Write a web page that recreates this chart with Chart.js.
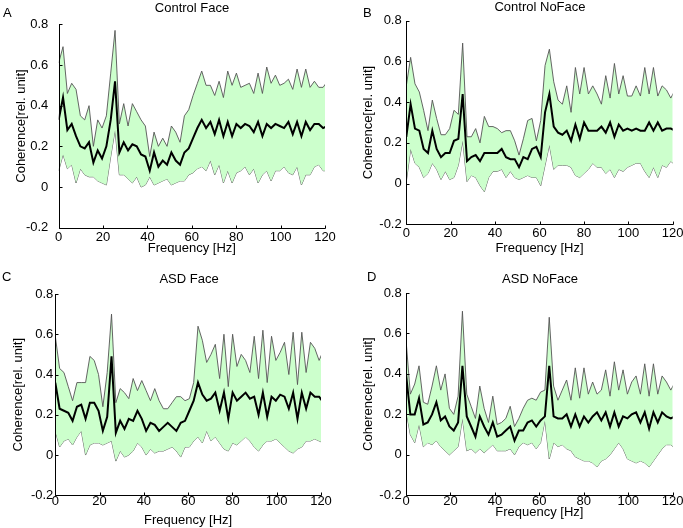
<!DOCTYPE html>
<html>
<head>
<meta charset="utf-8">
<script src="https://cdn.jsdelivr.net/npm/chart.js@4/dist/chart.umd.min.js"></script>
<style>
html,body{margin:0;padding:0;background:#fff;}
#wrap{position:relative;width:683px;height:528px;overflow:hidden;font-family:"Liberation Sans",Arial,sans-serif;}
canvas{position:absolute;}
.t{position:absolute;font-size:13px;line-height:13px;white-space:nowrap;color:#000;}
.c{transform:translateX(-50%);}
</style>
</head>
<body>
<div id="wrap">
  <canvas id="cA" width="340" height="264" style="left:0px;top:0px;"></canvas>
  <canvas id="cB" width="343" height="264" style="left:340px;top:0px;"></canvas>
  <canvas id="cC" width="340" height="264" style="left:0px;top:264px;"></canvas>
  <canvas id="cD" width="343" height="264" style="left:340px;top:264px;"></canvas>
  <div class="t" style="left:3px;top:6px;">A</div>
  <div class="t" style="left:363px;top:6px;">B</div>
  <div class="t" style="left:2px;top:270px;">C</div>
  <div class="t" style="left:367px;top:270px;">D</div>
  <div class="t c" id="tA" style="left:192px;top:1px;"></div>
  <div class="t c" id="tB" style="left:540px;top:0px;"></div>
  <div class="t c" id="tC" style="left:189px;top:272px;"></div>
  <div class="t c" id="tD" style="left:540px;top:272px;"></div>
</div>
<script>
// ---------- data ----------
const FREQ = [0,1.95,3.91,5.86,7.81,9.77,11.72,13.67,15.63,17.58,19.53,21.48,23.44,25.39,27.34,29.30,31.25,33.20,35.16,37.11,39.06,41.02,42.97,44.92,46.88,48.83,50.78,52.73,54.69,56.64,58.59,60.55,62.50,64.45,66.41,68.36,70.31,72.27,74.22,76.17,78.13,80.08,82.03,83.98,85.94,87.89,89.84,91.80,93.75,95.70,97.66,99.61,101.56,103.52,105.47,107.42,109.38,111.33,113.28,115.23,117.19,119.14,121.09];

const X_TICKS = [0,20,40,60,80,100,120];
const Y_TICKS = [-0.2,0,0.2,0.4,0.6,0.8];
const TITLES = ['Control Face','Control NoFace','ASD Face','ASD NoFace'];
const X_LABEL = 'Frequency [Hz]';
const Y_LABEL = 'Coherence[rel. unit]';

// Control Face
const CF_MEAN = [0.33,0.44,0.28,0.31,0.25,0.20,0.19,0.22,0.12,0.18,
0.14,0.20,0.33,0.52,0.17,0.22,0.18,0.21,0.20,0.16,
0.15,0.08,0.17,0.10,0.13,0.11,0.17,0.13,0.11,0.17,
0.19,0.24,0.29,0.33,0.29,0.32,0.26,0.33,0.25,0.32,
0.25,0.31,0.29,0.31,0.30,0.27,0.32,0.25,0.31,0.29,
0.31,0.30,0.29,0.32,0.26,0.32,0.25,0.32,0.28,0.31,
0.31,0.29,0.30];
const CF_UPPER = [0.61,0.69,0.46,0.51,0.48,0.35,0.33,0.40,0.20,0.33,
0.29,0.35,0.56,0.77,0.31,0.41,0.30,0.41,0.37,0.33,
0.30,0.15,0.27,0.20,0.24,0.20,0.30,0.27,0.22,0.35,
0.38,0.45,0.51,0.57,0.50,0.50,0.45,0.52,0.44,0.57,
0.50,0.56,0.49,0.50,0.51,0.46,0.56,0.46,0.59,0.51,
0.55,0.50,0.51,0.53,0.48,0.58,0.49,0.58,0.49,0.52,
0.49,0.49,0.52];
const CF_LOWER = [0.08,0.16,0.09,0.11,0.02,0.09,0.06,0.05,0.05,0.03,
0.02,0.01,0.15,0.28,0.06,0.06,0.04,0.02,0.05,0.00,
0.01,0.05,0.01,0.02,0.03,0.04,0.01,0.02,0.03,0.03,
0.06,0.07,0.09,0.10,0.08,0.13,0.06,0.11,0.02,0.08,
0.02,0.07,0.08,0.10,0.06,0.09,0.02,0.06,0.08,0.03,
0.08,0.08,0.10,0.07,0.06,0.10,0.01,0.06,0.06,0.10,
0.11,0.08,0.08];

// Control NoFace
const CN_MEAN = [0.23,0.39,0.27,0.26,0.17,0.15,0.26,0.17,0.13,0.15,
0.15,0.21,0.22,0.44,0.11,0.13,0.14,0.11,0.15,0.15,
0.15,0.15,0.17,0.13,0.12,0.12,0.08,0.13,0.12,0.17,
0.18,0.13,0.35,0.44,0.28,0.25,0.24,0.26,0.21,0.29,
0.22,0.30,0.26,0.26,0.26,0.28,0.25,0.30,0.23,0.29,
0.26,0.27,0.26,0.27,0.26,0.26,0.30,0.26,0.30,0.26,
0.27,0.27,0.26];
const CN_UPPER = [0.48,0.62,0.49,0.45,0.36,0.26,0.41,0.32,0.24,0.24,
0.27,0.36,0.34,0.69,0.23,0.23,0.27,0.20,0.33,0.28,
0.28,0.27,0.25,0.26,0.26,0.21,0.14,0.22,0.31,0.32,
0.21,0.31,0.58,0.66,0.50,0.41,0.39,0.48,0.35,0.57,
0.44,0.57,0.44,0.48,0.44,0.39,0.53,0.42,0.59,0.44,
0.53,0.43,0.43,0.48,0.43,0.57,0.44,0.57,0.43,0.48,
0.46,0.42,0.46];
const CN_LOWER = [0.01,0.17,0.10,0.08,0.03,0.05,0.10,0.07,0.02,0.06,
0.02,0.03,0.09,0.21,0.01,0.04,0.03,-0.01,-0.04,0.03,
0.06,0.06,0.07,0.03,0.06,0.03,0.02,0.03,0.04,0.03,
0.03,-0.01,0.09,0.19,0.07,0.09,0.09,0.09,0.08,0.04,
0.03,0.05,0.07,0.10,0.08,0.08,0.05,0.07,0.03,0.07,
0.06,0.08,0.09,0.10,0.10,0.06,0.03,0.08,0.03,0.09,
0.08,0.11,0.09];

// ASD Face
const AF_MEAN = [0.36,0.23,0.22,0.21,0.17,0.24,0.25,0.18,0.26,0.26,
0.22,0.12,0.19,0.49,0.11,0.17,0.13,0.18,0.17,0.22,
0.18,0.12,0.16,0.15,0.12,0.14,0.16,0.14,0.12,0.16,
0.17,0.22,0.27,0.36,0.30,0.27,0.28,0.31,0.22,0.31,
0.18,0.31,0.27,0.29,0.31,0.28,0.29,0.20,0.31,0.19,
0.29,0.27,0.30,0.29,0.23,0.31,0.18,0.31,0.23,0.31,
0.29,0.29,0.26];
const AF_UPPER = [0.59,0.43,0.41,0.34,0.27,0.36,0.36,0.36,0.49,0.47,
0.40,0.24,0.41,0.70,0.26,0.33,0.31,0.28,0.38,0.32,
0.37,0.32,0.27,0.33,0.27,0.23,0.23,0.26,0.29,0.29,
0.27,0.28,0.36,0.64,0.57,0.46,0.50,0.55,0.38,0.60,
0.34,0.60,0.44,0.50,0.47,0.41,0.59,0.38,0.62,0.36,
0.59,0.47,0.51,0.56,0.40,0.61,0.35,0.61,0.41,0.56,
0.53,0.47,0.52];
const AF_LOWER = [0.12,0.04,0.07,0.08,0.05,0.09,0.12,0.00,0.05,0.06,
0.06,0.05,0.06,0.07,-0.03,0.02,-0.01,0.00,0.02,0.06,
0.04,0.00,0.03,0.01,0.02,0.02,0.03,0.04,0.02,-0.01,
0.04,0.04,0.07,0.09,0.06,0.12,0.07,0.09,0.06,0.03,
0.02,0.06,0.05,0.07,0.09,0.07,0.04,0.02,0.05,0.07,
0.07,0.08,0.06,0.04,0.02,0.01,0.03,0.04,0.07,0.07,
0.08,0.07,0.06];

// ASD NoFace
const AN_MEAN = [0.40,0.20,0.20,0.28,0.15,0.16,0.20,0.26,0.17,0.19,
0.14,0.12,0.16,0.44,0.19,0.14,0.09,0.19,0.14,0.10,
0.16,0.09,0.10,0.12,0.14,0.07,0.12,0.12,0.16,0.17,
0.14,0.17,0.19,0.44,0.19,0.18,0.18,0.20,0.14,0.20,
0.14,0.19,0.16,0.19,0.21,0.17,0.21,0.14,0.21,0.14,
0.19,0.18,0.20,0.21,0.16,0.21,0.13,0.21,0.16,0.21,
0.19,0.18,0.19];
const AN_UPPER = [0.57,0.30,0.35,0.44,0.26,0.25,0.34,0.44,0.32,0.40,
0.23,0.20,0.29,0.71,0.30,0.24,0.18,0.34,0.23,0.16,
0.29,0.15,0.16,0.18,0.24,0.14,0.18,0.23,0.27,0.28,
0.27,0.31,0.32,0.68,0.34,0.27,0.32,0.37,0.27,0.43,
0.28,0.43,0.30,0.36,0.30,0.32,0.42,0.29,0.46,0.32,
0.42,0.30,0.36,0.39,0.30,0.45,0.29,0.45,0.30,0.39,
0.36,0.32,0.36];
const AN_LOWER = [0.22,0.10,0.06,0.15,0.04,0.06,0.05,0.07,0.04,0.02,
0.00,0.02,0.04,0.18,0.02,0.03,0.01,0.03,0.01,0.03,
0.05,0.02,0.02,0.02,0.03,0.00,0.04,0.06,0.05,0.06,
0.03,0.06,0.17,-0.02,0.06,0.04,0.05,0.03,0.02,-0.01,
-0.02,-0.03,-0.03,-0.04,-0.06,-0.03,-0.02,0.00,0.03,0.06,
0.03,-0.02,-0.03,-0.04,-0.03,-0.04,-0.06,-0.03,0.00,0.03,
0.05,0.05,0.03];

// ---------- layout (page coordinates) ----------
const PANELS = [
  {id:'cA', title:'tA', mean:CF_MEAN, upper:CF_UPPER, lower:CF_LOWER, cv:[0,0,340,264],
   area:{l:58.7,r:325,t:24.3,b:227.7}, yPad:10.4, xPad:3.1, yTitleX:21.7, xTitleY:248.3},
  {id:'cB', title:'tB', mean:CN_MEAN, upper:CN_UPPER, lower:CN_LOWER, cv:[340,0,343,264],
   area:{l:406.3,r:672.7,t:20.7,b:224.3}, yPad:4.6, xPad:2.5, yTitleX:368.3, xTitleY:248.3},
  {id:'cC', title:'tC', mean:AF_MEAN, upper:AF_UPPER, lower:AF_LOWER, cv:[0,264,340,264],
   area:{l:55.3,r:321,t:294,b:495.3}, yPad:2, xPad:-0.5, yTitleX:18.3, xTitleY:520.7},
  {id:'cD', title:'tD', mean:AN_MEAN, upper:AN_UPPER, lower:AN_LOWER, cv:[340,264,343,264],
   area:{l:406,r:672.7,t:293,b:495.3}, yPad:4.3, xPad:-0.3, yTitleX:368.3, xTitleY:512.3}
];

const FONT = "'Liberation Sans', Arial, sans-serif";

// axis lines (left and bottom) plus short inward tick marks, placed by the scales
const axesAndTicks = {
  id: 'axesAndTicks',
  afterDatasetsDraw(chart) {
    const {ctx, chartArea: a, scales: {x, y}} = chart;
    const L = Math.round(a.left) + 0.5;
    const B = Math.round(a.bottom) + 0.5;
    ctx.save();
    ctx.strokeStyle = '#000';
    ctx.lineWidth = 1;
    ctx.beginPath();
    ctx.moveTo(L, Math.round(a.top)); ctx.lineTo(L, B);
    ctx.lineTo(Math.round(a.right) + 0.5, B);
    y.ticks.forEach(t => {
      const py = Math.round(y.getPixelForValue(t.value)) + 0.5;
      ctx.moveTo(L, py); ctx.lineTo(L + 3, py);
    });
    x.ticks.forEach(t => {
      const px = Math.round(x.getPixelForValue(t.value)) + 0.5;
      ctx.moveTo(px, B); ctx.lineTo(px, B - 3);
    });
    ctx.stroke();
    ctx.restore();
  }
};

PANELS.forEach((p, k) => {
  document.getElementById(p.title).textContent = TITLES[k];
  const [cx, cy, cw, ch] = p.cv;
  const yAxisW = p.area.l - cx;
  const xAxisH = cy + ch - p.area.b;
  const yTitlePadTop = p.yTitleX - cx - 7.8;
  const xTitlePadBottom = (cy + ch) - p.xTitleY - 7.8;
  const toPts = arr => arr.map((v, i) => ({x: FREQ[i], y: v}));
  new Chart(document.getElementById(p.id), {
    type: 'line',
    data: {
      datasets: [
        {label:'mean', data: toPts(p.mean), borderColor:'#000', borderWidth:2, pointRadius:0, fill:false, tension:0},
        {label:'upper', data: toPts(p.upper), borderColor:'#555', borderWidth:0.9, pointRadius:0, fill:'+1', backgroundColor:'#ccffcc', tension:0},
        {label:'lower', data: toPts(p.lower), borderColor:'#555', borderWidth:0.9, pointRadius:0, fill:false, tension:0}
      ]
    },
    options: {
      responsive: false,
      animation: false,
      devicePixelRatio: 1,
      events: [],
      layout: {
        autoPadding: false,
        padding: {left: 0, top: p.area.t - cy, right: cx + cw - p.area.r, bottom: 0}
      },
      plugins: { legend: {display:false}, title: {display:false}, tooltip: {enabled:false} },
      scales: {
        x: {
          type: 'linear', min: 0, max: 120,
          grid: {display: false, drawTicks: false, tickLength: 0},
          border: {display: false},
          afterBuildTicks: s => { s.ticks = X_TICKS.map(v => ({value: v})); },
          ticks: {color:'#000', padding: p.xPad, font: {family: FONT, size: 13, lineHeight: 1}, maxRotation: 0,
                  callback: v => String(v)},
          title: {display: true, text: X_LABEL, color:'#000', font: {family: FONT, size: 13, lineHeight: 1.2},
                  padding: {top: 0, bottom: xTitlePadBottom}},
          afterFit: s => { s.height = xAxisH; s.paddingLeft = 0; s.paddingRight = 0; }
        },
        y: {
          type: 'linear', min: -0.2, max: 0.8,
          grid: {display: false, drawTicks: false, tickLength: 0},
          border: {display: false},
          afterBuildTicks: s => { s.ticks = Y_TICKS.map(v => ({value: v})); },
          ticks: {color:'#000', padding: p.yPad, font: {family: FONT, size: 13, lineHeight: 1},
                  callback: v => (Math.abs(v) < 1e-9 ? '0' : (Math.round(v * 10) / 10).toFixed(1))},
          title: {display: true, text: Y_LABEL, color:'#000', font: {family: FONT, size: 13, lineHeight: 1.2},
                  padding: {top: yTitlePadTop, bottom: 0}},
          afterFit: s => { s.width = yAxisW; s.paddingTop = 0; s.paddingBottom = 0; }
        }
      }
    },
    plugins: [axesAndTicks]
  });
});
</script>
</body>
</html>
